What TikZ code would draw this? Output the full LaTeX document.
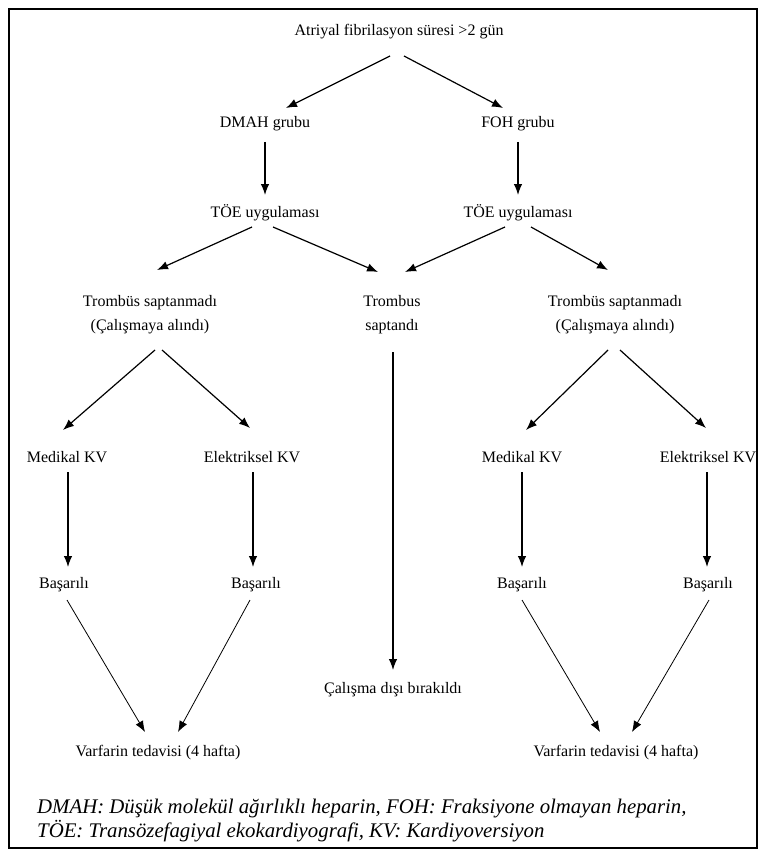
\documentclass[tikz,border=0pt]{standalone}
\usepackage{fontspec}
\setmainfont{Liberation Serif}
\usetikzlibrary{arrows.meta}

\begin{document}
\begin{tikzpicture}[x=1pt,y=-1pt,
    kutu/.style={inner sep=0pt,align=center,font=\fontsize{16}{24}\selectfont},
    ok/.style={-{Latex[length=11pt,width=8.5pt]},line width=1.2pt},
    okince/.style={ok,line width=0.8pt}]
  \useasboundingbox (0,0) rectangle (765,861);
  \draw[line width=1.6pt] (9,9) rectangle (757,848);
  \foreach \ad/\x/\y/\metin in {atr/399/32/{Atriyal fibrilasyon süresi >2 gün},
      dmah/265/124/{DMAH grubu},foh/518/124/{FOH grubu},
      toeL/265/213/{TÖE uygulaması},toeR/518/213/{TÖE uygulaması},
      trL/150/315/{Trombüs saptanmadı\\(Çalışmaya alındı)},trM/392/315/{Trombus\\saptandı},
      trR/615/315/{Trombüs saptanmadı\\(Çalışmaya alındı)},
      medL/67/457/{Medikal KV},elkL/252/457/{Elektriksel KV},
      medR/522/457/{Medikal KV},elkR/708/457/{Elektriksel KV},
      basL1/64/585/{Başarılı},basL2/256/585/{Başarılı},
      basR1/522/585/{Başarılı},basR2/708/585/{Başarılı},
      cdb/393/690/{Çalışma dışı bırakıldı},
      varL/158/753/{Varfarin tedavisi (4 hafta)},varR/616/753/{Varfarin tedavisi (4 hafta)}}
    \node[kutu] (\ad) at (\x,\y) {\metin};
  \foreach \a/\ax/\ay/\b/\bx/\by in {atr/-9/24/dmah/21/-16,atr/5/24/foh/-15/-16,
      dmah/0/18/toeL/0/-18,foh/0/18/toeR/0/-18,
      toeL/-13/14/trL/7/-45,toeL/8/14/trM/-14/-43,toeR/-13/14/trM/13/-43,toeR/13/14/trR/-7/-45,
      trL/5/35/medL/-4/-27,trL/12/35/elkL/-2/-29,trR/-7/35/medR/4/-27,trR/5/35/elkR/-2/-29,
      trM/1/37/cdb/0/-20,
      medL/1/15/basL1/4/-18,elkL/1/15/basL2/-3/-18,medR/0/15/basR1/0/-18,elkR/-1/15/basR2/-1/-18}
    \draw[ok] ([shift={(\ax,\ay)}]\a.center) -- ([shift={(\bx,\by)}]\b.center);
  \foreach \a/\ax/\ay/\b/\bx/\by in {basL1/3/15/varL/-13/-21,basL2/-6/15/varL/20/-21,
      basR1/0/15/varR/-16/-21,basR2/1/15/varR/16/-21}
    \draw[okince] ([shift={(\ax,\ay)}]\a.center) -- ([shift={(\bx,\by)}]\b.center);
  \node[anchor=west,align=left,inner sep=0pt,font=\itshape\fontsize{20.8}{24}\selectfont] (aciklama) at (37,821)
    {DMAH: Düşük molekül ağırlıklı heparin, FOH: Fraksiyone olmayan heparin,\\
     TÖE: Transözefagiyal ekokardiyografi, KV: Kardiyoversiyon};
\end{tikzpicture}
\end{document}
